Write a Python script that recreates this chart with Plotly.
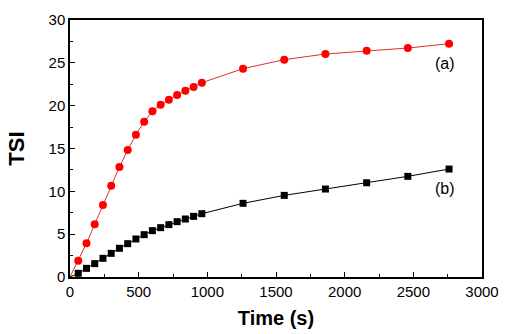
import plotly.graph_objects as go

time_a = [0, 60, 120, 180, 240, 300, 360, 420, 480, 540, 600, 660, 720, 780, 840, 900, 960,
          1260, 1560, 1860, 2160, 2460, 2760]
tsi_a = [0, 1.90, 3.93, 6.15, 8.40, 10.66, 12.85, 14.82, 16.61, 18.13, 19.34, 20.11, 20.70,
         21.24, 21.75, 22.18, 22.68, 24.32, 25.37, 26.03, 26.42, 26.73, 27.23]
time_b = time_a
tsi_b = [0, 0.43, 1.01, 1.56, 2.18, 2.76, 3.35, 3.89, 4.44, 4.94, 5.41, 5.76, 6.11, 6.46,
         6.77, 7.08, 7.39, 8.60, 9.53, 10.27, 11.00, 11.75, 12.60]
labels = ["(a)", "(b)"]

fig = go.Figure()
fig.add_trace(go.Scatter(x=time_a, y=tsi_a, mode="lines",
                         line=dict(color="#e03030", width=1), showlegend=False))
fig.add_trace(go.Scatter(x=time_a[1:], y=tsi_a[1:], mode="markers",
                         marker=dict(symbol="circle", size=8, color="#ff0000"),
                         showlegend=False, cliponaxis=False))
fig.add_trace(go.Scatter(x=time_b, y=tsi_b, mode="lines",
                         line=dict(color="#000000", width=1), showlegend=False))
fig.add_trace(go.Scatter(x=time_b[1:], y=tsi_b[1:], mode="markers",
                         marker=dict(symbol="square", size=7, color="#000000"),
                         showlegend=False, cliponaxis=False))

ann_font = dict(family="Liberation Sans, Arial", size=16, color="black")
fig.add_annotation(x=time_a[-1], y=tsi_a[-1], text=labels[0], showarrow=False,
                   xanchor="center", yanchor="middle", yshift=-20, xshift=-4, font=ann_font)
fig.add_annotation(x=time_b[-1], y=tsi_b[-1], text=labels[1], showarrow=False,
                   xanchor="center", yanchor="middle", yshift=-19, xshift=-4, font=ann_font)

axis_font = dict(family="Liberation Sans, Arial", size=15, color="black")
fig.update_xaxes(range=[0, 3000], dtick=500, tick0=0, showgrid=False, zeroline=False,
                 showline=True, linecolor="black", linewidth=1.5, mirror=True,
                 ticks="inside", ticklen=5, tickwidth=1.2, tickcolor="black",
                 minor=dict(ticks="inside", ticklen=3, dtick=250, tickcolor="black", tickwidth=1),
                 tickfont=axis_font, automargin=False,
                 title=dict(text="<b>Time (s)</b>", standoff=12,
                            font=dict(family="Liberation Sans, Arial", size=20, color="black")))
fig.update_yaxes(range=[0, 30], dtick=5, tick0=0, showgrid=False, zeroline=False,
                 showline=True, linecolor="black", linewidth=1.5, mirror=True,
                 ticks="inside", ticklen=5, tickwidth=1.2, tickcolor="black",
                 minor=dict(ticks="inside", ticklen=3, dtick=2.5, tickcolor="black", tickwidth=1),
                 tickfont=axis_font, automargin=False,
                 title=dict(text="<b>TSI</b>", standoff=18,
                            font=dict(family="Liberation Sans, Arial", size=22, color="black")))

fig.update_layout(width=509, height=334, margin=dict(l=70, r=27, t=20, b=57),
                  plot_bgcolor="white", paper_bgcolor="white")

fig.write_html("out.html")
